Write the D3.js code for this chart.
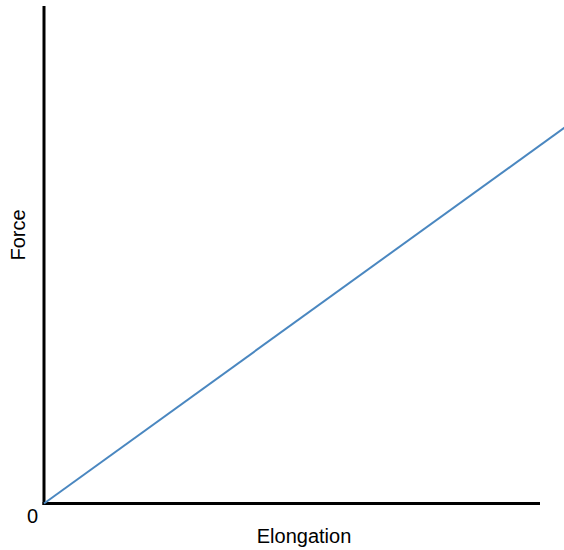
<!DOCTYPE html>
<html>
<head>
<meta charset="utf-8">
<script src="https://cdn.jsdelivr.net/npm/d3@7"></script>
<style>
  html, body { margin: 0; padding: 0; background: #fff; }
  svg { display: block; }
  text { font-family: "Liberation Sans", Arial, Helvetica, sans-serif; fill: #000; }
</style>
</head>
<body>
<script>
// Data
const elongation = [0, 10.5];
const force = [0, 7.56];
const xDomain = [0, 10];
const yDomain = [0, 10];
const originLabel = "0";
const xTitle = "Elongation";
const yTitle = "Force";

const W = 564, H = 550;
const svg = d3.select("body").append("svg").attr("width", W).attr("height", H);

const x = d3.scaleLinear().domain(xDomain).range([44, 540]);
const y = d3.scaleLinear().domain(yDomain).range([503.5, 6]);

// axes
svg.append("line")
  .attr("x1", x(0)).attr("x2", x(0))
  .attr("y1", y(0) + 1.5).attr("y2", y(yDomain[1]))
  .attr("stroke", "#000").attr("stroke-width", 3);
svg.append("line")
  .attr("x1", x(0) - 1.5).attr("x2", x(xDomain[1]))
  .attr("y1", y(0)).attr("y2", y(0))
  .attr("stroke", "#000").attr("stroke-width", 3);

// data line
const pts = elongation.map((e, i) => [e, force[i]]);
svg.append("path")
  .datum(pts)
  .attr("fill", "none")
  .attr("stroke", "#4a87c0")
  .attr("stroke-width", 2)
  .attr("d", d3.line().x(d => x(d[0])).y(d => y(d[1])));

// labels
svg.append("text")
  .attr("x", 32.5).attr("y", 522.5)
  .attr("text-anchor", "middle")
  .attr("font-size", 20)
  .text(originLabel);

svg.append("text")
  .attr("x", 304).attr("y", 543)
  .attr("text-anchor", "middle")
  .attr("font-size", 20)
  .text(xTitle);

svg.append("text")
  .attr("transform", "translate(25,235) rotate(-90)")
  .attr("text-anchor", "middle")
  .attr("font-size", 20)
  .text(yTitle);
</script>
</body>
</html>
